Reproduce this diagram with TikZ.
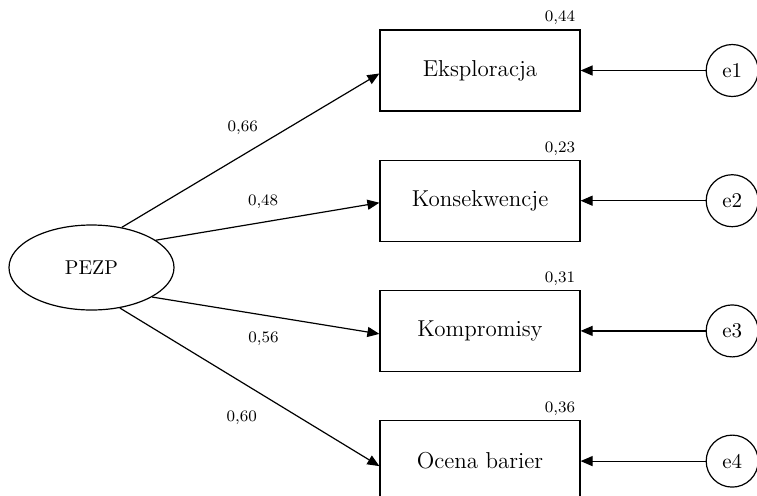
\documentclass[tikz,border=0pt]{standalone}
\usepackage{tikz}
\usetikzlibrary{shapes.geometric, arrows.meta, positioning}

\begin{document}
\begin{tikzpicture}[
        x=0.5pt, y=-0.5pt,
        node distance=24pt,
        latent/.style={ellipse, draw, line width=0.6pt, minimum width=82.5pt, minimum height=42.5pt, inner sep=0pt, font=\fontsize{10}{12}\selectfont},
        block/.style={rectangle, draw, line width=0.6pt, minimum width=100pt, minimum height=40.5pt, font=\fontsize{11.5}{13}\selectfont},
        err/.style={circle, draw, line width=0.6pt, minimum size=26pt, inner sep=0pt, font=\fontsize{10.5}{12}\selectfont},
        coef/.style={font=\fontsize{8}{10}\selectfont, inner sep=1pt},
        rsq/.style={coef, anchor=south east, xshift=-1.5pt, yshift=1pt},
        arrow/.style={-{Triangle[length=6pt,width=5pt]}, line width=0.6pt}
    ]
        \clip (0,0) rectangle (757,495);

        % Latent variable
        \node[latent] (pezp) at (91.5,267.5) {PEZP};

        % Indicators
        \node[block, label={[rsq]north east:0,44}] (eks) at (480,70.5) {Eksploracja};
        \node[block, below=of eks, label={[rsq]north east:0,23}] (kons) {Konsekwencje};
        \node[block, below=of kons, label={[rsq]north east:0,31}] (komp) {Kompromisy};
        \node[block, below=of komp, label={[rsq]north east:0,36}] (ocena) {Ocena barier};

        % Errors
        \node[err, right=62.5pt of eks] (e1) {e1};
        \node[err, right=62.5pt of kons] (e2) {e2};
        \node[err, right=62.5pt of komp] (e3) {e3};
        \node[err, right=62.5pt of ocena] (e4) {e4};

        % Loadings
        \draw[arrow] (pezp.53) -- node[coef, pos=0.47, above=9pt] (w1) {0,66} ([yshift=-1.5pt]eks.west);
        \draw[arrow] (pezp.23) -- node[coef, pos=0.48, above=5.3pt] (w2) {0,48} ([yshift=-1pt]kons.west);
        \draw[arrow] (pezp.-26) -- node[coef, pos=0.49, below=7.2pt] (w3) {0,56} ([yshift=-1.5pt]komp.west);
        \draw[arrow] (pezp.-55) -- node[coef, pos=0.47, below=12.8pt] (w4) {0,60} ([yshift=-2.5pt]ocena.west);

        % Error arrows
        \draw[arrow] (e1) -- (eks);
        \draw[arrow] (e2) -- (kons);
        \draw[arrow] (e3) -- (komp);
        \draw[arrow] (e4) -- (ocena);

    \end{tikzpicture}
\end{document}
